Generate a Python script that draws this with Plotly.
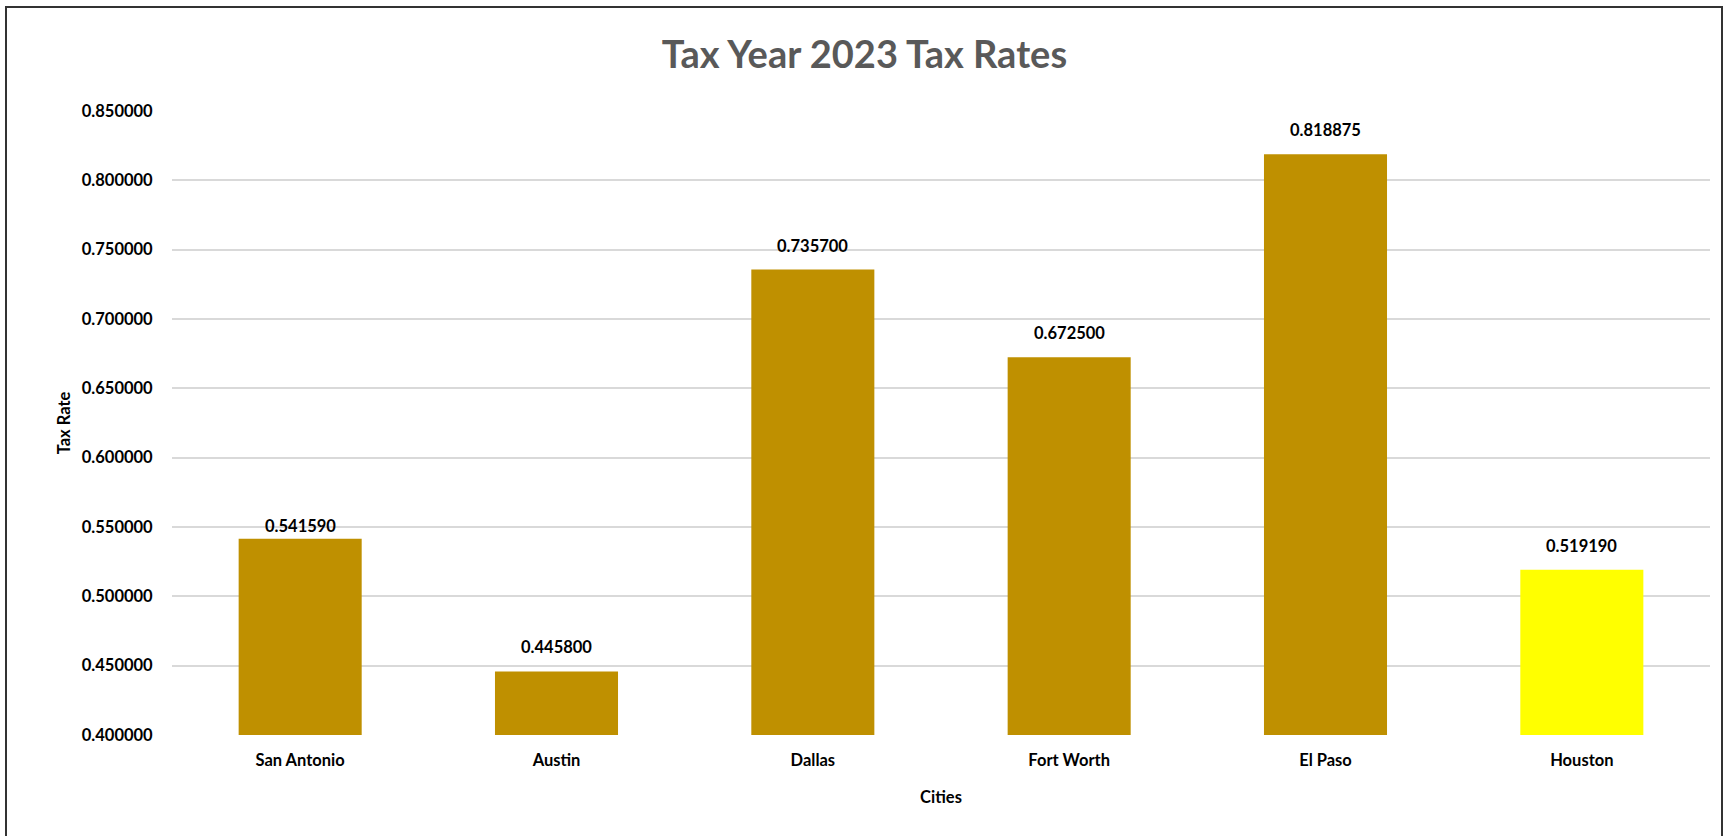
import plotly.graph_objects as go

cities = ["San Antonio", "Austin", "Dallas", "Fort Worth", "El Paso", "Houston"]
tax_rates = [0.541590, 0.445800, 0.735700, 0.672500, 0.818875, 0.519190]
bar_colors = ["#BF9000", "#BF9000", "#BF9000", "#BF9000", "#BF9000", "#FFFF00"]
label_text = [f"{v:.6f}" for v in tax_rates]

# label offset above the bar top (pixels), styling only
label_shift = {"San Antonio": 1}
DEFAULT_SHIFT = 12

W, H = 1729, 836
ML, MR, MT, MB = 172, 19, 111, 101
pw, ph = W - ML - MR, H - MT - MB

def px_x(x):
    return (x - ML) / pw

def px_y(y):
    return 1 - (y - MT) / ph

FONT = "Lato"

fig = go.Figure()
fig.add_trace(go.Bar(
    x=cities, y=tax_rates, base=0,
    marker=dict(color=bar_colors, line=dict(width=0)),
    cliponaxis=True, width=0.48,
))

for c, v, t in zip(cities, tax_rates, label_text):
    fig.add_annotation(x=c, y=v, text=f"<b>{t}</b>", showarrow=False,
                       xanchor="center", yanchor="bottom",
                       yshift=label_shift.get(c, DEFAULT_SHIFT),
                       font=dict(family=FONT, size=16.5, color="#000000"))

fig.update_layout(
    width=W, height=H,
    margin=dict(l=ML, r=MR, t=MT, b=MB),
    plot_bgcolor="white", paper_bgcolor="white",
    showlegend=False,
    title=dict(text="<b>Tax Year 2023 Tax Rates</b>", x=0.5, xanchor="center",
               y=1 - 55 / H, yanchor="middle",
               font=dict(family=FONT, size=38, color="#595959")),
    font=dict(family=FONT, color="#000000"),
    xaxis=dict(
        title=dict(text="<b>Cities</b>", font=dict(family=FONT, size=16.5, color="#000000"), standoff=22),
        tickfont=dict(family=FONT, size=16.5, color="#000000", weight="bold"),
        showgrid=False, showline=False, ticks="outside", ticklen=10, tickcolor="rgba(0,0,0,0)",
    ),
    yaxis=dict(
        title=dict(text="<b>Tax Rate</b>", font=dict(family=FONT, size=16.5, color="#000000"), standoff=7),
        range=[0.4, 0.85], dtick=0.05, tick0=0.4, tickformat=".6f",
        tickfont=dict(family=FONT, size=16.5, color="#000000", weight="bold"),
        showgrid=True, gridcolor="#D9D9D9", gridwidth=1.5,
        zeroline=False, showline=False, ticks="outside", ticklen=15, tickcolor="rgba(0,0,0,0)",
    ),
)

fig.add_shape(type="rect", xref="paper", yref="paper",
              x0=px_x(6), x1=px_x(1722), y0=px_y(845), y1=px_y(7),
              line=dict(color="#333333", width=2), fillcolor="rgba(0,0,0,0)", layer="above")

fig.write_html("out.html")
